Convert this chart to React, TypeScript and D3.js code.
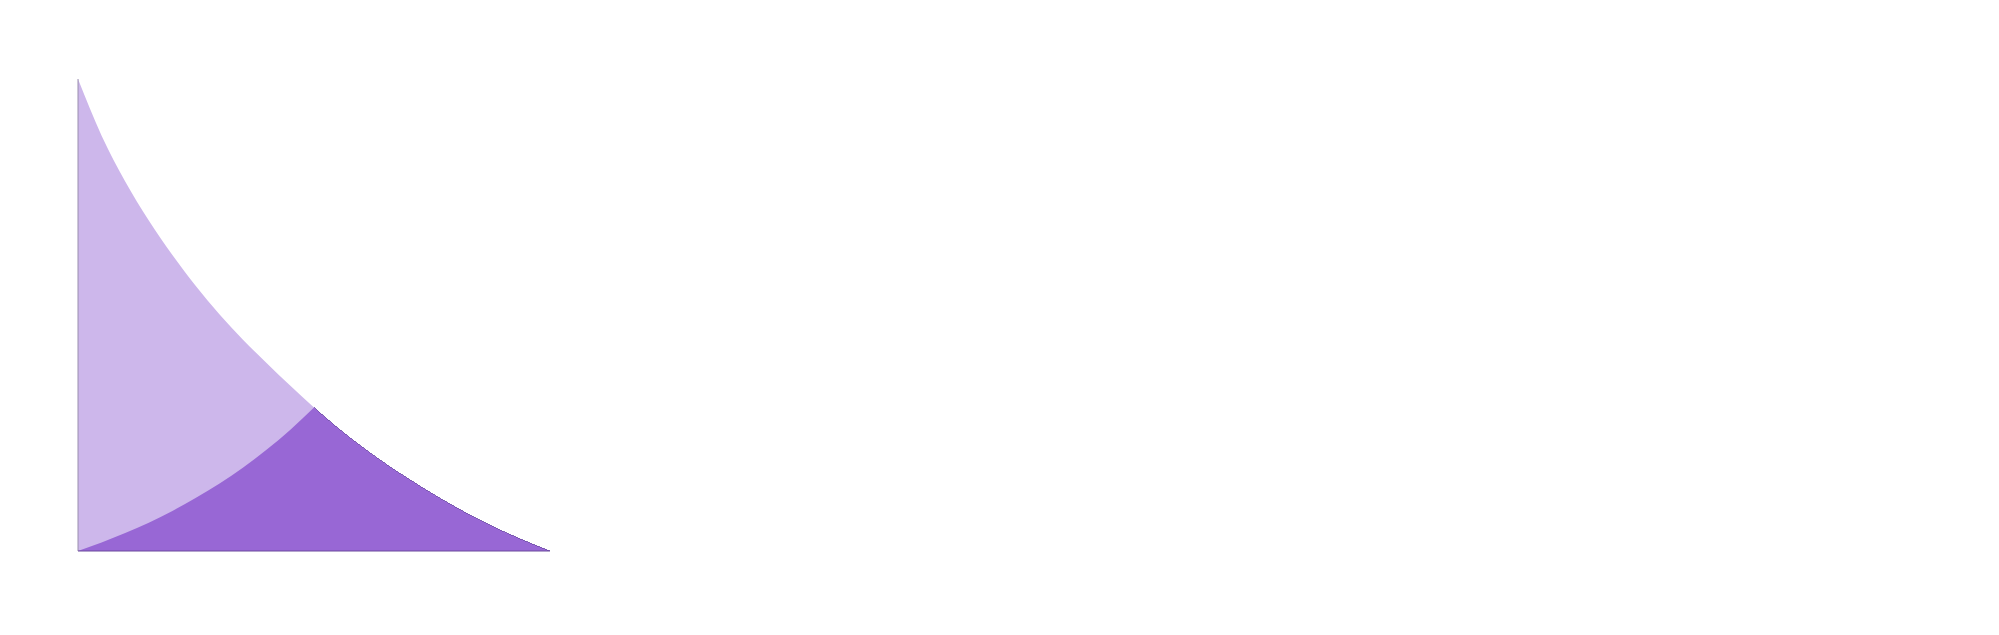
import React, { useEffect, useRef } from 'react';
import * as d3 from 'd3';

// x positions (share of the width) and the two series
const xs = [0, 0.05, 0.1, 0.15, 0.2, 0.25, 0.3, 0.35, 0.4, 0.45, 0.5, 0.55, 0.6, 0.65, 0.7, 0.75, 0.8, 0.85, 0.9, 0.95, 1];
const falling = [1, 0.88, 0.783, 0.7, 0.627, 0.561, 0.501, 0.447, 0.398, 0.35, 0.304, 0.261, 0.222, 0.186, 0.153, 0.122, 0.093, 0.066, 0.042, 0.02, 0];
const risingXs = [0, 0.05, 0.1, 0.15, 0.2, 0.25, 0.3, 0.35, 0.4, 0.45, 0.5];
const rising = [0, 0.018, 0.038, 0.06, 0.085, 0.113, 0.143, 0.177, 0.215, 0.257, 0.304];
const crossAt = 0.5;

const App = () => {
  const svgRef = useRef<SVGSVGElement>(null);

  useEffect(() => {
    const margin = { left: 70, top: 71 };
    const width = 472;
    const height = 472;

    const svg = d3.select(svgRef.current);
    svg.selectAll('*').remove();
    const g = svg.append('g').attr('transform', `translate(${margin.left}, ${margin.top})`);

    const x = d3.scaleLinear().domain([0, 1]).range([0, width]);
    const y = d3.scaleLinear().domain([0, 1]).range([height, 0]);

    const fallData = xs.map((d, i) => ({ x: d, v: falling[i] }));
    const riseData = risingXs.map((d, i) => ({ x: d, v: rising[i] }));

    const area = d3
      .area<{ x: number; v: number }>()
      .x((d) => x(d.x))
      .y0(y(0))
      .y1((d) => y(d.v))
      .curve(d3.curveMonotoneX);

    const line = d3
      .line<{ x: number; v: number }>()
      .x((d) => x(d.x))
      .y((d) => y(d.v))
      .curve(d3.curveMonotoneX);

    // clip for the right part of the dark shape
    svg
      .append('defs')
      .append('clipPath')
      .attr('id', 'right-part')
      .append('rect')
      .attr('x', x(crossAt))
      .attr('y', -2)
      .attr('width', width - x(crossAt) + 2)
      .attr('height', height + 4);

    // light area
    g.append('path').datum(fallData).attr('d', area).attr('fill', '#cdb7eb');

    // dark area, left part under the rising curve
    g.append('path').datum(riseData).attr('d', area).attr('fill', '#9867d5');

    // dark area, right part under the falling curve
    g.append('path')
      .datum(fallData)
      .attr('d', area)
      .attr('fill', '#9867d5')
      .attr('clip-path', 'url(#right-part)');

    g.append('path')
      .datum(fallData)
      .attr('d', line)
      .attr('fill', 'none')
      .attr('stroke', '#6d4aa6')
      .attr('stroke-width', 0.8)
      .attr('shape-rendering', 'crispEdges')
      .attr('clip-path', 'url(#right-part)');

    // left edge
    g.append('line')
      .attr('x1', x(0))
      .attr('x2', x(0))
      .attr('y1', y(1))
      .attr('y2', y(0))
      .attr('stroke', '#9a8fae')
      .attr('stroke-width', 1);

    // baseline
    g.append('line')
      .attr('x1', x(0))
      .attr('x2', x(1))
      .attr('y1', y(0))
      .attr('y2', y(0))
      .attr('stroke', '#6a4b9c')
      .attr('stroke-width', 1);
  }, []);

  return (
    <div className="area-chart">
      <svg ref={svgRef} width={1983} height={619} style={{ display: 'block' }}></svg>
    </div>
  );
};

export default App;
